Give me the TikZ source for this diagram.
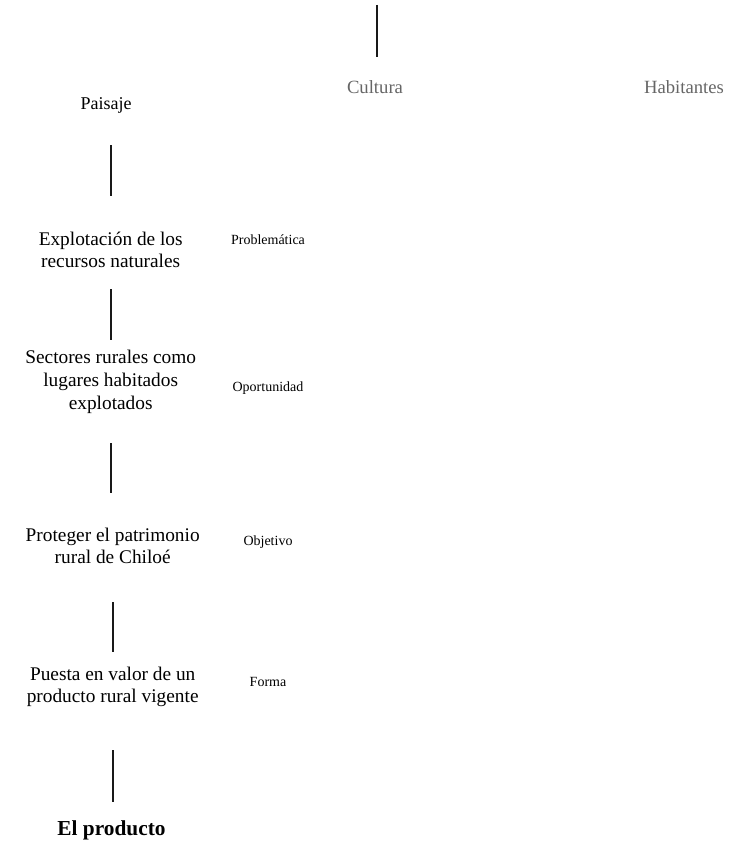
\documentclass[tikz,border=0pt]{standalone}
\usepackage{fontspec}
\setmainfont{Liberation Serif}
\usetikzlibrary{positioning}
\tikzstyle{stage} = [align=center,font=\fontsize{14.5}{17}\selectfont,inner sep=0pt]
\tikzstyle{tag} = [font=\fontsize{10.5}{12}\selectfont,inner sep=0pt]
\tikzstyle{theme} = [font=\fontsize{14}{16}\selectfont,text=black!60,inner sep=0pt]
\tikzstyle{conn} = [line width=1.4pt,black!90]

\begin{document}
\begin{tikzpicture}[x=0.75pt,y=-0.75pt]
\useasboundingbox (0,0) rectangle (738,842);

\node[stage,font=\fontsize{13.5}{16}\selectfont] (paisaje) at (106,105) {Paisaje};
\node[theme] (cultura) at (375,87) {Cultura};
\node[theme] (habitantes) at (684,87) {Habitantes};

\node[stage] (explot) at (110.7,250) {Explotación de los\\recursos naturales};
\node[stage] (sectores) at (110.7,382) {Sectores rurales como\\lugares habitados\\explotados};
\node[stage] (proteger) at (112.7,546) {Proteger el patrimonio\\rural de Chiloé};
\node[stage] (puesta) at (112.7,687) {Puesta en valor de un\\producto rural vigente};
\node[stage,font=\fontsize{16}{18}\selectfont\bfseries] (producto) at (111.5,830) {El producto};

\node[tag] (problematica) at (268,240) {Problemática};
\node[tag] (oportunidad) at (268,388) {Oportunidad};
\node[tag] (objetivo) at (268,542) {Objetivo};
\node[tag] (forma) at (268,682) {Forma};

\coordinate (ctop) at (376.7,5);
\coordinate (cbot) at (376.7,57);
\draw[conn] (ctop) -- (cbot);

% vertical links, kept on the lower node's axis
\draw[conn,shorten <=30pt,shorten >=40.5pt] (explot.center |- paisaje.center) -- (explot.center);
\draw[conn,shorten <=29.25pt,shorten >=31.5pt] (explot.center) -- (explot.center |- sectores.center);
\draw[conn,shorten <=45.75pt,shorten >=39.75pt] (sectores.center) -- (sectores.center |- proteger.center);
\draw[conn,shorten <=42pt,shorten >=26.25pt] (proteger.center) -- (proteger.center |- puesta.center);
\draw[conn,shorten <=47.25pt,shorten >=21pt] (puesta.center) -- (puesta.center |- producto.center);
\end{tikzpicture}
\end{document}
